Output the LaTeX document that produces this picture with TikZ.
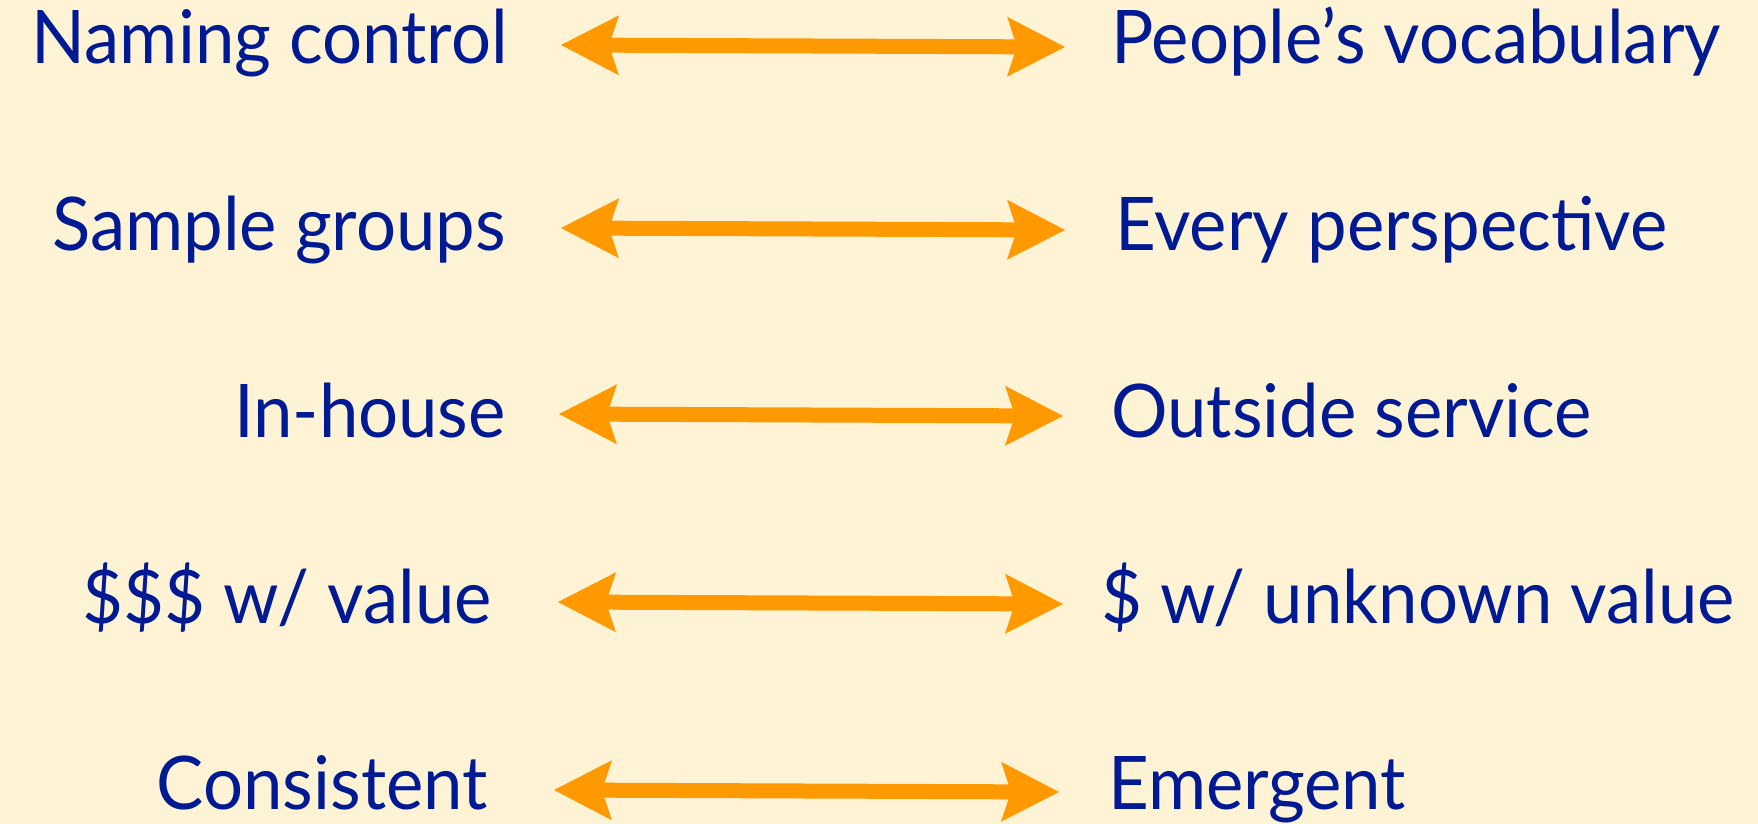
\documentclass[tikz,border=0pt]{standalone}
\usepackage{fontspec}
\setmainfont{Lato}[FakeStretch=0.955]
\usetikzlibrary{arrows.meta}
\definecolor{bgc}{RGB}{255,243,214}
\definecolor{txtc}{RGB}{0,26,148}
\definecolor{arrc}{RGB}{255,153,0}
\begin{document}
\begin{tikzpicture}[x=1pt,y=-1pt,
  lefttxt/.style={anchor=base east,inner sep=0pt,text=txtc,font=\fontsize{74}{80}\selectfont},
  righttxt/.style={anchor=base west,inner sep=0pt,text=txtc,font=\fontsize{74}{80}\selectfont},
  dbl/.style={draw=arrc,line width=15pt,
    {Stealth[length=58pt,width=60pt,inset=10pt,line width=0pt]}-{Stealth[length=58pt,width=60pt,inset=10pt,line width=0pt]}}]
\fill[bgc] (0,0) rectangle (1758,824);
\useasboundingbox (0,0) rectangle (1758,824);
% row 1
\node[lefttxt] (l1) at (508,64) {Naming control};
\node[righttxt] (r1) at (1111,64) {People’s vocabulary};
\coordinate (a1) at (561,45); \coordinate (b1) at (1065,47);
\draw[dbl] (a1) -- (b1);
% row 2
\node[lefttxt] (l2) at (506,250) {Sample groups};
\node[righttxt] (r2) at (1115,250) {Every perspective};
\coordinate (a2) at (561,228); \coordinate (b2) at (1065,230);
\draw[dbl] (a2) -- (b2);
% row 3
\node[lefttxt] (l3) at (506,437) {In-house};
\node[righttxt] (r3) at (1111,437) {Outside service};
\coordinate (a3) at (559,414); \coordinate (b3) at (1063,416);
\draw[dbl] (a3) -- (b3);
% row 4
\node[lefttxt] (l4) at (492,623) {\$\$\$ w/ value};
\node[righttxt] (r4) at (1101,623) {\$ w/ unknown value};
\coordinate (a4) at (558,602); \coordinate (b4) at (1063,604);
\draw[dbl] (a4) -- (b4);
% row 5
\node[lefttxt] (l5) at (488,809) {Consistent};
\node[righttxt] (r5) at (1108,809) {Emergent};
\coordinate (a5) at (554,790); \coordinate (b5) at (1059,792);
\draw[dbl] (a5) -- (b5);
\end{tikzpicture}
\end{document}
